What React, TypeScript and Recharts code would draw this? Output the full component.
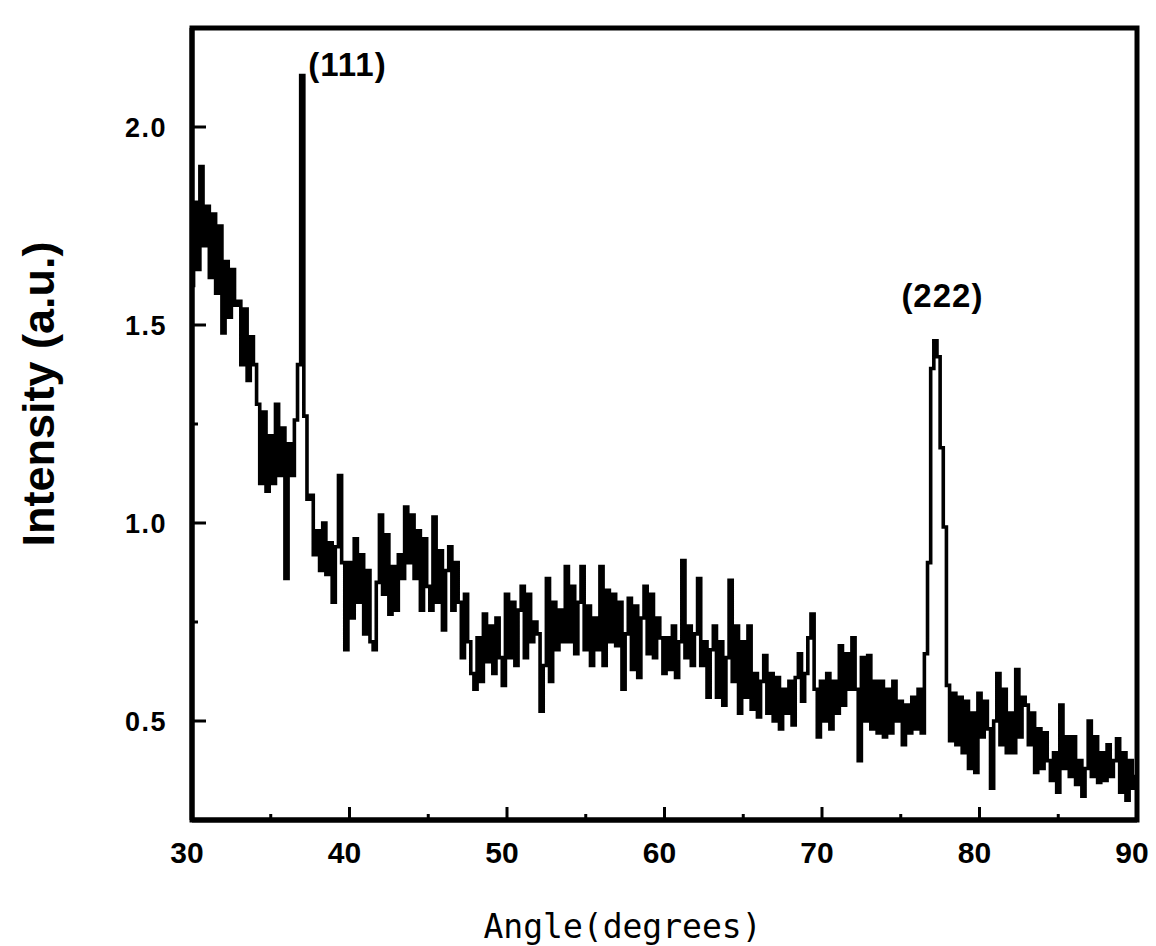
import React from 'react';
import { LineChart, Line, XAxis, YAxis, ReferenceArea, ReferenceDot } from 'recharts';

document.body.style.margin = '0';

// XRD scan, sampled every 0.2 degrees from 30 to 90
const angleStart = 30;
const angleStep = 0.2;

const intensity = [
  1.60, 1.81, 1.64, 1.90, 1.70, // 30
  1.80, 1.62, 1.78, 1.58, 1.75, // 31
  1.48, 1.66, 1.52, 1.64, 1.55, // 32
  1.56, 1.40, 1.54, 1.36, 1.47, // 33
  1.40, 1.30, 1.10, 1.28, 1.08, // 34
  1.22, 1.10, 1.30, 1.12, 1.24, // 35
  0.86, 1.20, 1.12, 1.26, 1.40, // 36
  2.13, 1.27, 1.06, 1.07, 0.92, // 37
  0.98, 0.88, 1.00, 0.87, 0.95, // 38
  0.80, 0.94, 1.12, 0.90, 0.68, // 39
  0.90, 0.76, 0.96, 0.80, 0.92, // 40
  0.72, 0.88, 0.70, 0.68, 0.85, // 41
  1.02, 0.82, 0.97, 0.77, 0.89, // 42
  0.78, 0.92, 0.86, 1.04, 0.90, // 43
  1.02, 0.86, 0.98, 0.78, 0.96, // 44
  0.84, 0.78, 1.015, 0.80, 0.93, // 45
  0.73, 0.88, 0.94, 0.78, 0.90, // 46
  0.80, 0.66, 0.82, 0.70, 0.62, // 47
  0.58, 0.71, 0.60, 0.77, 0.65, // 48
  0.74, 0.62, 0.76, 0.66, 0.59, // 49
  0.82, 0.66, 0.80, 0.64, 0.78, // 50
  0.84, 0.66, 0.82, 0.70, 0.75, // 51
  0.72, 0.525, 0.64, 0.86, 0.60, // 52
  0.80, 0.68, 0.78, 0.70, 0.89, // 53
  0.70, 0.84, 0.67, 0.80, 0.89, // 54
  0.68, 0.79, 0.64, 0.76, 0.68, // 55
  0.89, 0.64, 0.83, 0.70, 0.82, // 56
  0.69, 0.80, 0.58, 0.72, 0.81, // 57
  0.63, 0.79, 0.61, 0.76, 0.84, // 58
  0.67, 0.82, 0.66, 0.76, 0.71, // 59
  0.62, 0.71, 0.63, 0.74, 0.61, // 60
  0.70, 0.905, 0.66, 0.74, 0.64, // 61
  0.72, 0.86, 0.64, 0.70, 0.56, // 62
  0.68, 0.74, 0.56, 0.70, 0.54, // 63
  0.66, 0.855, 0.60, 0.74, 0.52, // 64
  0.70, 0.56, 0.74, 0.53, 0.62, // 65
  0.51, 0.60, 0.665, 0.52, 0.62, // 66
  0.50, 0.61, 0.48, 0.58, 0.52, // 67
  0.60, 0.49, 0.61, 0.67, 0.55, // 68
  0.62, 0.71, 0.77, 0.58, 0.46, // 69
  0.60, 0.50, 0.62, 0.48, 0.60, // 70
  0.52, 0.69, 0.54, 0.67, 0.58, // 71
  0.71, 0.58, 0.40, 0.66, 0.50, // 72
  0.665, 0.48, 0.60, 0.47, 0.60, // 73
  0.46, 0.58, 0.47, 0.60, 0.50, // 74
  0.55, 0.44, 0.54, 0.47, 0.56, // 75
  0.48, 0.58, 0.47, 0.67, 0.90, // 76
  1.39, 1.46, 1.42, 1.19, 0.99, // 77
  0.59, 0.45, 0.57, 0.44, 0.56, // 78
  0.42, 0.55, 0.38, 0.52, 0.37, // 79
  0.57, 0.46, 0.55, 0.48, 0.33, // 80
  0.50, 0.62, 0.44, 0.58, 0.42, // 81
  0.52, 0.42, 0.63, 0.46, 0.56, // 82
  0.54, 0.44, 0.52, 0.37, 0.48, // 83
  0.38, 0.47, 0.40, 0.35, 0.42, // 84
  0.32, 0.54, 0.38, 0.46, 0.36, // 85
  0.46, 0.34, 0.40, 0.31, 0.38, // 86
  0.50, 0.36, 0.46, 0.345, 0.42, // 87
  0.35, 0.44, 0.36, 0.40, 0.455, // 88
  0.32, 0.42, 0.30, 0.40, 0.33, // 89
  0.36, // 90
];

const xTicks = [30, 40, 50, 60, 70, 80, 90];
const xMinorTicks = [35, 45, 55, 65, 75, 85];
const yTicks = [0.5, 1.0, 1.5, 2.0];
const yMinorTicks = [0.75, 1.25, 1.75];

const peaks = [
  { angle: 37.0, intensity: 2.13, text: '(111)' },
  { angle: 77.2, intensity: 1.46, text: '(222)' },
];

const data = intensity.map((v, i) => ({
  angle: Number((angleStart + i * angleStep).toFixed(1)),
  intensity: v,
}));

const allXTicks = [...xTicks, ...xMinorTicks].sort((a, b) => a - b);
const allYTicks = [...yTicks, ...yMinorTicks].sort((a, b) => a - b);

const sansBold = "'Liberation Sans', Arial, sans-serif";
const X_MARGIN = 20;
const Y_MARGIN = 25;

// inward tick mark + label for the bottom axis
const XTick = (props: any) => {
  const { x, y, payload } = props;
  const axisY = y - X_MARGIN;
  const major = xTicks.includes(payload.value);
  return (
    <g>
      <line x1={x} x2={x} y1={axisY} y2={axisY - (major ? 13 : 6)} stroke="#000" strokeWidth={3} />
      {major && (
        <text
          x={x - 5}
          y={y + 23}
          textAnchor="middle"
          fontFamily={sansBold}
          fontWeight="bold"
          fontSize={30}
          fill="#000"
        >
          {payload.value}
        </text>
      )}
    </g>
  );
};

// inward tick mark + label for the left axis
const YTick = (props: any) => {
  const { x, y, payload } = props;
  const axisX = x + Y_MARGIN;
  const major = yTicks.includes(payload.value);
  return (
    <g>
      <line x1={axisX} x2={axisX + (major ? 14 : 6)} y1={y} y2={y} stroke="#000" strokeWidth={3} />
      {major && (
        <text
          x={x}
          y={y + 10}
          textAnchor="end"
          fontFamily={sansBold}
          fontWeight="bold"
          fontSize={27}
          letterSpacing={1.5}
          fill="#000"
        >
          {payload.value.toFixed(1)}
        </text>
      )}
    </g>
  );
};

const XTitle = ({ viewBox }: any) => (
  <text
    x={viewBox.x + viewBox.width / 2 - 42}
    y={viewBox.y + 118}
    textAnchor="middle"
    fontFamily="'DejaVu Sans Mono', monospace"
    fontSize={33}
    fill="#000"
  >
    Angle(degrees)
  </text>
);

const YTitle = ({ viewBox }: any) => {
  const cx = viewBox.x - 18;
  const cy = viewBox.y + viewBox.height / 2 - 30;
  return (
    <text
      x={cx}
      y={cy}
      transform={`rotate(-90 ${cx} ${cy})`}
      textAnchor="middle"
      fontFamily={sansBold}
      fontWeight="bold"
      fontSize={45}
      fill="#000"
    >
      Intensity (a.u.)
    </text>
  );
};

// label placement next to each peak
const peakLabelPos = [
  { dx: 6, dy: 0, anchor: 'start' },
  { dx: 7, dy: -34, anchor: 'middle' },
];

const App = () => {
  return (
    <LineChart
      width={1156}
      height={946}
      data={data}
      margin={{ top: 28, right: 19, left: 72, bottom: 66 }}
    >
      <XAxis
        dataKey="angle"
        type="number"
        domain={[30, 90]}
        ticks={allXTicks}
        interval={0}
        allowDataOverflow
        height={60}
        stroke="#000"
        strokeWidth={5}
        tickLine={false}
        tickSize={0}
        tickMargin={X_MARGIN}
        tick={XTick}
        label={{ content: XTitle }}
      />
      <YAxis
        type="number"
        domain={[0.25, 2.25]}
        ticks={allYTicks}
        interval={0}
        allowDataOverflow
        width={120}
        stroke="#000"
        strokeWidth={5}
        tickLine={false}
        tickSize={0}
        tickMargin={Y_MARGIN}
        tick={YTick}
        label={{ content: YTitle }}
      />
      <ReferenceArea
        x1={30}
        x2={90}
        y1={0.25}
        y2={2.25}
        fill="none"
        fillOpacity={0}
        stroke="#000"
        strokeWidth={5}
        ifOverflow="visible"
      />
      <Line
        type="step"
        dataKey="intensity"
        stroke="#000"
        strokeWidth={3.6}
        dot={false}
        isAnimationActive={false}
      />
      {peaks.map((p, i) => (
        <ReferenceDot
          key={p.text}
          x={p.angle}
          y={p.intensity}
          r={0}
          fill="none"
          stroke="none"
          label={{
            content: ({ viewBox }: any) => (
              <text
                x={viewBox.x + peakLabelPos[i].dx}
                y={viewBox.y + peakLabelPos[i].dy}
                textAnchor={peakLabelPos[i].anchor as any}
                fontFamily={sansBold}
                fontWeight="bold"
                fontSize={33}
                letterSpacing={1}
                fill="#000"
              >
                {p.text}
              </text>
            ),
          }}
        />
      ))}
    </LineChart>
  );
};

export default App;
